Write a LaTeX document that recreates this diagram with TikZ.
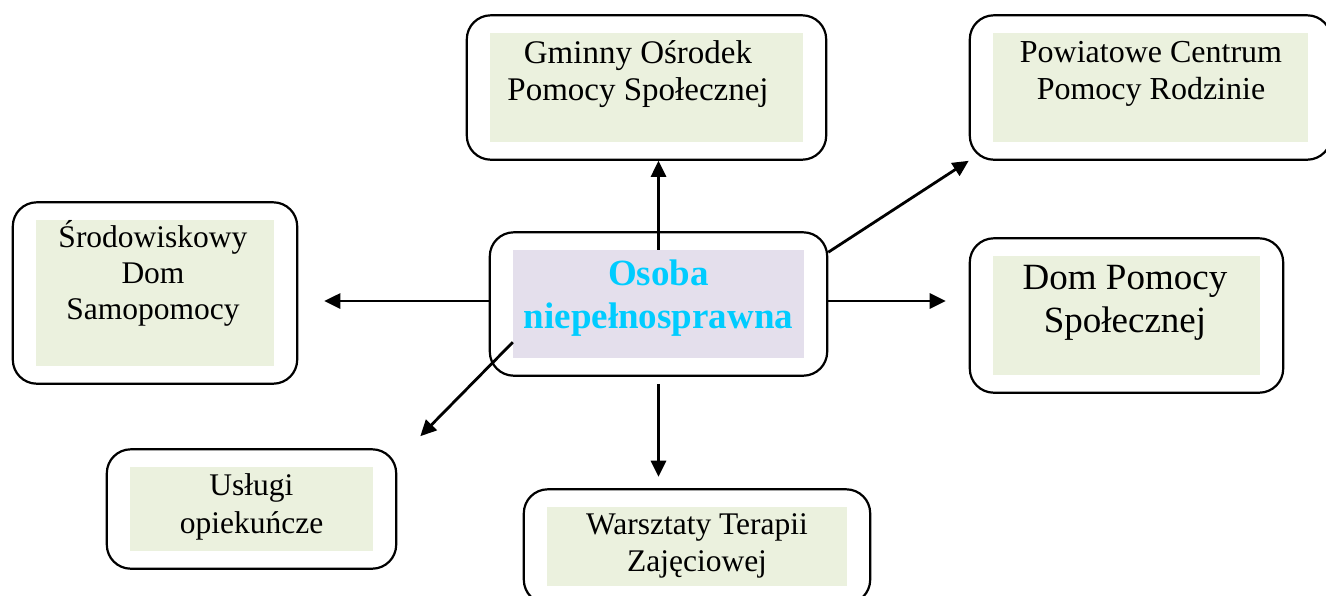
\documentclass[tikz,border=0pt]{standalone}
\usepackage{fontspec}
\setmainfont{Liberation Serif}
\usepackage{tikz}
\usetikzlibrary{arrows.meta,fit,positioning}
\definecolor{boxgreen}{HTML}{EBF1DE}
\definecolor{boxlila}{HTML}{E4DFEC}
\definecolor{osobacyan}{HTML}{00CCFF}

\begin{document}
\begin{tikzpicture}[x=1pt,y=-1pt,>={Triangle[length=16pt,width=15pt]},
  inbox/.style={fill=boxgreen, inner sep=0pt},
  outbox/.style={draw, line width=2.2pt, rounded corners=24pt, inner xsep=23pt, inner ysep=17.5pt},
  txt/.style={align=center, inner sep=0pt, font=\fontsize{32}{37}\selectfont},
  bigtxt/.style={align=center, inner sep=0pt, font=\fontsize{37}{43}\selectfont},
  arr/.style={->, line width=2.8pt}]
  \useasboundingbox (0,0) rectangle (1326,595);
  \clip (0,0) rectangle (1326,595);

  \node [inbox, fill=boxlila, minimum width=291pt, minimum height=108pt] (osobaIn) at (658.5,304) {};
  \node [outbox, fit=(osobaIn)] (osoba) {};
  \node [bigtxt, font=\bfseries\fontsize{37}{43}\selectfont, text=osobacyan] (osobaTxt) at (658.5,298) {Osoba\\niepełnosprawna};

  \node [inbox, minimum width=313pt, minimum height=109pt] (gopsIn) at (646.5,87.5) {};
  \node [outbox, fit=(gopsIn)] (gops) {};
  \node [txt, font=\fontsize{33}{37}\selectfont] (gopsTxt) at (638,74) {Gminny Ośrodek\\Pomocy Społecznej};

  \node [inbox, minimum width=315pt, minimum height=109pt] (pcprIn) at (1150.5,87.5) {};
  \node [outbox, fit=(pcprIn)] (pcpr) {};
  \node [txt] (pcprTxt) at (1151,74) {Powiatowe Centrum\\Pomocy Rodzinie};

  \node [inbox, minimum width=238pt, minimum height=146pt] (srodIn) at (155,293) {};
  \node [outbox, fit=(srodIn)] (srod) {};
  \node [txt, font=\fontsize{31.5}{36}\selectfont] (srodTxt) at (153,273) {Środowiskowy\\Dom\\Samopomocy};

  \node [inbox, minimum width=267pt, minimum height=119pt] (dpsIn) at (1126.5,315.5) {};
  \node [outbox, fit=(dpsIn)] (dps) {};
  \node [bigtxt] (dpsTxt) at (1125,303) {Dom Pomocy\\Społecznej};

  \node [inbox, minimum width=243pt, minimum height=84pt] (uslIn) at (251.5,509) {};
  \node [outbox, fit=(uslIn)] (usl) {};
  \node [txt, font=\fontsize{31.5}{38}\selectfont] (uslTxt) at (251.5,507) {Usługi\\opiekuńcze};

  \node [inbox, minimum width=300pt, minimum height=79pt] (warszIn) at (697,546.5) {};
  \node [outbox, fit=(warszIn)] (warsz) {};
  \node [txt, font=\fontsize{31.5}{37}\selectfont] (warszTxt) at (697,546) {Warsztaty Terapii\\Zajęciowej};

  \coordinate (uslTip) at ([xshift=23pt,yshift=12pt]usl.north east);

  \draw [arr] (osobaIn.north) -- (osobaIn.north |- gops.south);
  \draw [arr] ([yshift=-21pt]osoba.north east) -- (pcpr.south west);
  \draw [arr, shorten >=26pt] ([yshift=3pt]osoba.west) -- ([yshift=3pt]osoba.west -| srod.east);
  \draw [arr, shorten >=23pt] ([yshift=3pt]osoba.east) -- ([yshift=3pt]osoba.east -| dps.west);
  \draw [arr, shorten <=7pt, shorten >=11.5pt] (osoba.south) -- (osoba.south |- warsz.north);
  \draw [arr] ([yshift=16pt]osobaIn.south west) -- (uslTip);
\end{tikzpicture}
\end{document}
